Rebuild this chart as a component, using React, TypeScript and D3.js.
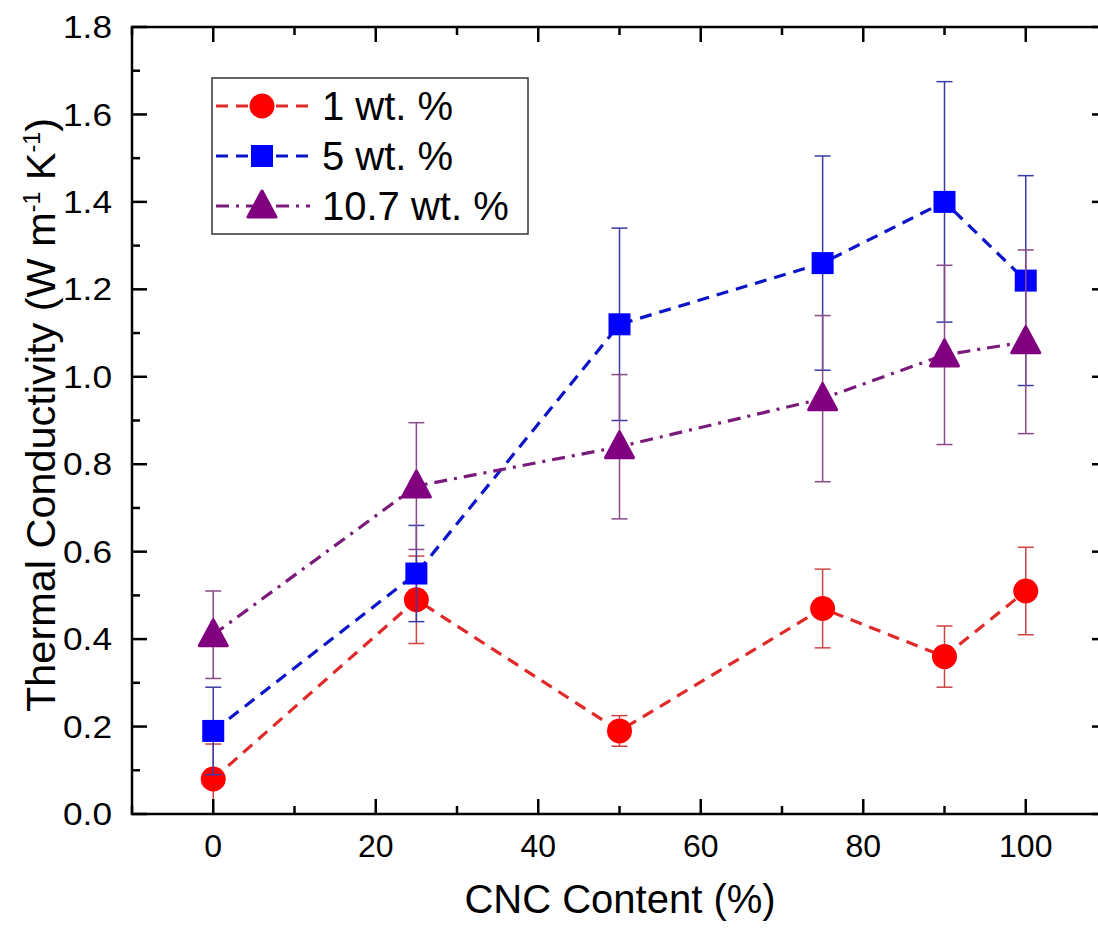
import React, { useEffect, useRef } from "react";
import * as d3 from "d3";

const cncContent = [0, 25, 50, 75, 90, 100];

const seriesNames = ["1 wt. %", "5 wt. %", "10.7 wt. %"];
const wt1 = [0.08, 0.49, 0.19, 0.47, 0.36, 0.51];
const wt1Err = [0.08, 0.1, 0.035, 0.09, 0.07, 0.1];
const wt5 = [0.19, 0.55, 1.12, 1.26, 1.4, 1.22];
const wt5Err = [0.1, 0.11, 0.22, 0.245, 0.275, 0.24];
const wt107 = [0.41, 0.75, 0.84, 0.95, 1.05, 1.08];
const wt107Err = [0.1, 0.145, 0.165, 0.19, 0.205, 0.21];

const xMajorTicks = [0, 20, 40, 60, 80, 100];
const xMinorTicks = [-10, 10, 30, 50, 70, 90, 110];
const yMajorTicks = [0, 0.2, 0.4, 0.6, 0.8, 1.0, 1.2, 1.4, 1.6, 1.8];
const yMinorTicks = [0.1, 0.3, 0.5, 0.7, 0.9, 1.1, 1.3, 1.5, 1.7];

const FONT = "'Liberation Sans', Arial, sans-serif";

const App = () => {
  const ref = useRef<SVGSVGElement | null>(null);

  useEffect(() => {
    const svg = d3.select(ref.current);
    svg.selectAll("*").remove();

    const left = 132;
    const right = 1107;
    const top = 27;
    const bottom = 814;

    const x = d3.scaleLinear().domain([-10, 110]).range([left, right]);
    const y = d3.scaleLinear().domain([0, 1.8]).range([bottom, top]);

    const series = [
      { name: seriesNames[0], values: wt1, err: wt1Err, shape: "circle", fill: "#ff0000", line: "#e02a2a", bar: "#cc4444", dash: "12,8" },
      { name: seriesNames[1], values: wt5, err: wt5Err, shape: "square", fill: "#0000ff", line: "#0b14c8", bar: "#3a3aa8", dash: "12,8" },
      { name: seriesNames[2], values: wt107, err: wt107Err, shape: "triangle", fill: "#800080", line: "#7a1a7a", bar: "#8a4a8a", dash: "13,7,3,7" },
    ];

    const drawMarker = (g, shape, cx, cy, fill) => {
      if (shape === "circle") {
        g.append("circle").attr("cx", cx).attr("cy", cy).attr("r", 12.5).style("fill", fill);
      } else if (shape === "square") {
        g.append("rect")
          .attr("x", cx - 11)
          .attr("y", cy - 11)
          .attr("width", 22)
          .attr("height", 22)
          .style("fill", fill);
      } else {
        const pts = [
          [cx, cy - 15],
          [cx - 14, cy + 11],
          [cx + 14, cy + 11],
        ];
        g.append("polygon")
          .attr("points", pts.map((p) => p.join(",")).join(" "))
          .style("fill", fill)
          .style("stroke", fill)
          .style("stroke-width", 3)
          .style("stroke-linejoin", "round");
      }
    };

    // data
    series.forEach((s) => {
      const g = svg.append("g");
      const pts = cncContent.map((c, i) => [x(c), y(s.values[i])]);
      g.append("path")
        .attr("d", d3.line()(pts))
        .style("fill", "none")
        .style("stroke", s.line)
        .style("stroke-width", 3.2)
        .style("stroke-dasharray", s.dash);

      cncContent.forEach((c, i) => {
        const cx = x(c);
        const lo = y(Math.max(0, s.values[i] - s.err[i]));
        const hi = y(s.values[i] + s.err[i]);
        g.append("line").attr("x1", cx).attr("x2", cx).attr("y1", lo).attr("y2", hi)
          .style("stroke", s.bar).style("stroke-width", 1.5);
        [lo, hi].forEach((yy) => {
          g.append("line").attr("x1", cx - 8).attr("x2", cx + 8).attr("y1", yy).attr("y2", yy)
            .style("stroke", s.bar).style("stroke-width", 1.5);
        });
      });
      cncContent.forEach((c, i) => drawMarker(g, s.shape, x(c), y(s.values[i]), s.fill));
    });

    // frame
    const axes = svg.append("g").style("stroke", "#000").style("stroke-width", 2.5);
    axes.append("rect")
      .attr("x", left)
      .attr("y", top)
      .attr("width", right - left)
      .attr("height", bottom - top)
      .style("fill", "none");

    xMajorTicks.forEach((t) => {
      axes.append("line").attr("x1", x(t)).attr("x2", x(t)).attr("y1", bottom).attr("y2", bottom - 15);
      axes.append("line").attr("x1", x(t)).attr("x2", x(t)).attr("y1", top).attr("y2", top + 15);
    });
    xMinorTicks.forEach((t) => {
      axes.append("line").attr("x1", x(t)).attr("x2", x(t)).attr("y1", bottom).attr("y2", bottom - 8);
      axes.append("line").attr("x1", x(t)).attr("x2", x(t)).attr("y1", top).attr("y2", top + 8);
    });
    yMajorTicks.forEach((t) => {
      axes.append("line").attr("x1", left).attr("x2", left + 15).attr("y1", y(t)).attr("y2", y(t));
      axes.append("line").attr("x1", right).attr("x2", right - 15).attr("y1", y(t)).attr("y2", y(t));
    });
    yMinorTicks.forEach((t) => {
      axes.append("line").attr("x1", left).attr("x2", left + 8).attr("y1", y(t)).attr("y2", y(t));
      axes.append("line").attr("x1", right).attr("x2", right - 8).attr("y1", y(t)).attr("y2", y(t));
    });

    // tick labels
    const fmt = d3.format(".1f");
    svg.append("g")
      .selectAll("text")
      .data(yMajorTicks)
      .join("text")
      .attr("x", 112)
      .attr("y", (d) => y(d))
      .attr("dy", "0.36em")
      .attr("textLength", 49)
      .attr("lengthAdjust", "spacingAndGlyphs")
      .style("text-anchor", "end")
      .style("font-family", FONT)
      .style("font-size", "31px")
      .text((d) => fmt(d));

    svg.append("g")
      .selectAll("text")
      .data(xMajorTicks)
      .join("text")
      .attr("x", (d) => x(d))
      .attr("y", 857)
      .style("text-anchor", "middle")
      .style("font-family", FONT)
      .style("font-size", "32px")
      .text((d) => d);

    // axis titles
    svg.append("text")
      .attr("x", 620)
      .attr("y", 913)
      .style("text-anchor", "middle")
      .style("font-family", FONT)
      .style("font-size", "40px")
      .text("CNC Content (%)");

    const yt = svg.append("text")
      .attr("transform", `translate(55,415) rotate(-90)`)
      .attr("textLength", 594)
      .attr("lengthAdjust", "spacingAndGlyphs")
      .style("text-anchor", "middle")
      .style("font-family", FONT)
      .style("font-size", "41px");
    yt.append("tspan").text("Thermal Conductivity (W m");
    yt.append("tspan").attr("dy", -15).style("font-size", "23px").text("-1");
    yt.append("tspan").attr("dy", 15).text(" K");
    yt.append("tspan").attr("dy", -15).style("font-size", "23px").text("-1");
    yt.append("tspan").attr("dy", 15).text(")");

    // legend
    const lg = svg.append("g");
    lg.append("rect")
      .attr("x", 212)
      .attr("y", 78)
      .attr("width", 316)
      .attr("height", 156)
      .style("fill", "#fff")
      .style("stroke", "#333")
      .style("stroke-width", 1.5);
    const rowY = [106, 156, 206];
    series.forEach((s, i) => {
      const ry = rowY[i];
      lg.append("line")
        .attr("x1", 216)
        .attr("x2", 310)
        .attr("y1", ry)
        .attr("y2", ry)
        .style("stroke", s.line)
        .style("stroke-width", 3.2)
        .style("stroke-dasharray", s.dash);
      drawMarker(lg, s.shape, 262, ry, s.fill);
      lg.append("text")
        .attr("x", 322)
        .attr("y", ry)
        .attr("dy", "0.36em")
        .style("font-family", FONT)
        .style("font-size", "40px")
        .text(s.name);
    });
  }, []);

  return (
    <div style={{ position: "fixed", left: 0, top: 0, width: 1098, height: 928, background: "#fff" }}>
      <svg ref={ref} width={1098} height={928} style={{ display: "block" }} />
    </div>
  );
};

export default App;
